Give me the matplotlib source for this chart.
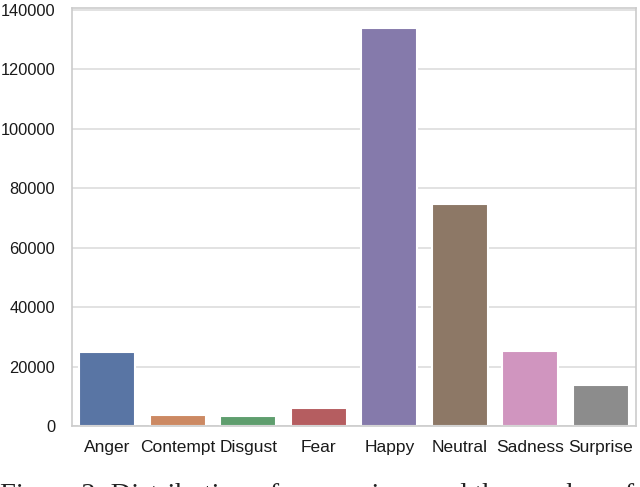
import matplotlib
matplotlib.use("Agg")
import matplotlib.pyplot as plt
import seaborn as sns

categories = ["Anger", "Contempt", "Disgust", "Fear", "Happy", "Neutral", "Sadness", "Surprise"]
counts = [24800, 3600, 3500, 6100, 134000, 74600, 25100, 13800]
caption = "Figure 2: Distribution of expressions and the number of images for each expression."

sns.set_theme(style="whitegrid")
plt.rcParams["font.family"] = ["Liberation Sans", "DejaVu Sans"]
plt.rcParams.update({"xtick.labelsize": 12.5, "ytick.labelsize": 11.8})

fig = plt.figure(figsize=(6.4, 4.87), dpi=100)
ax = fig.add_axes([0.1125, 0.1253, 0.8813, 0.8583])

palette = sns.color_palette("deep", len(categories))
sns.barplot(x=categories, y=counts, hue=categories, palette=palette, legend=False,
            saturation=0.75, ax=ax, edgecolor="white", linewidth=1.5)

ax.set_xlim(-0.5, len(categories) - 0.5)
ax.set_ylim(0, 140700)
ax.set_yticks(range(0, 140001, 20000))
ax.tick_params(axis="x", pad=4, labelcolor="#1a1a1a")
ax.tick_params(axis="y", pad=6, labelcolor="#1a1a1a")
for s in ax.spines.values():
    s.set_color("#cccccc")
    s.set_linewidth(1.2)
ax.grid(True, axis="y", color="#dddddd", linewidth=1.2)
ax.grid(False, axis="x")
ax.set_axisbelow(True)

fig.text(0.0, 0.0075, caption, ha="left", va="top", fontsize=20.5,
         family=["Liberation Serif", "DejaVu Serif"], color="#222222")

fig.savefig("out.png", dpi=100)
